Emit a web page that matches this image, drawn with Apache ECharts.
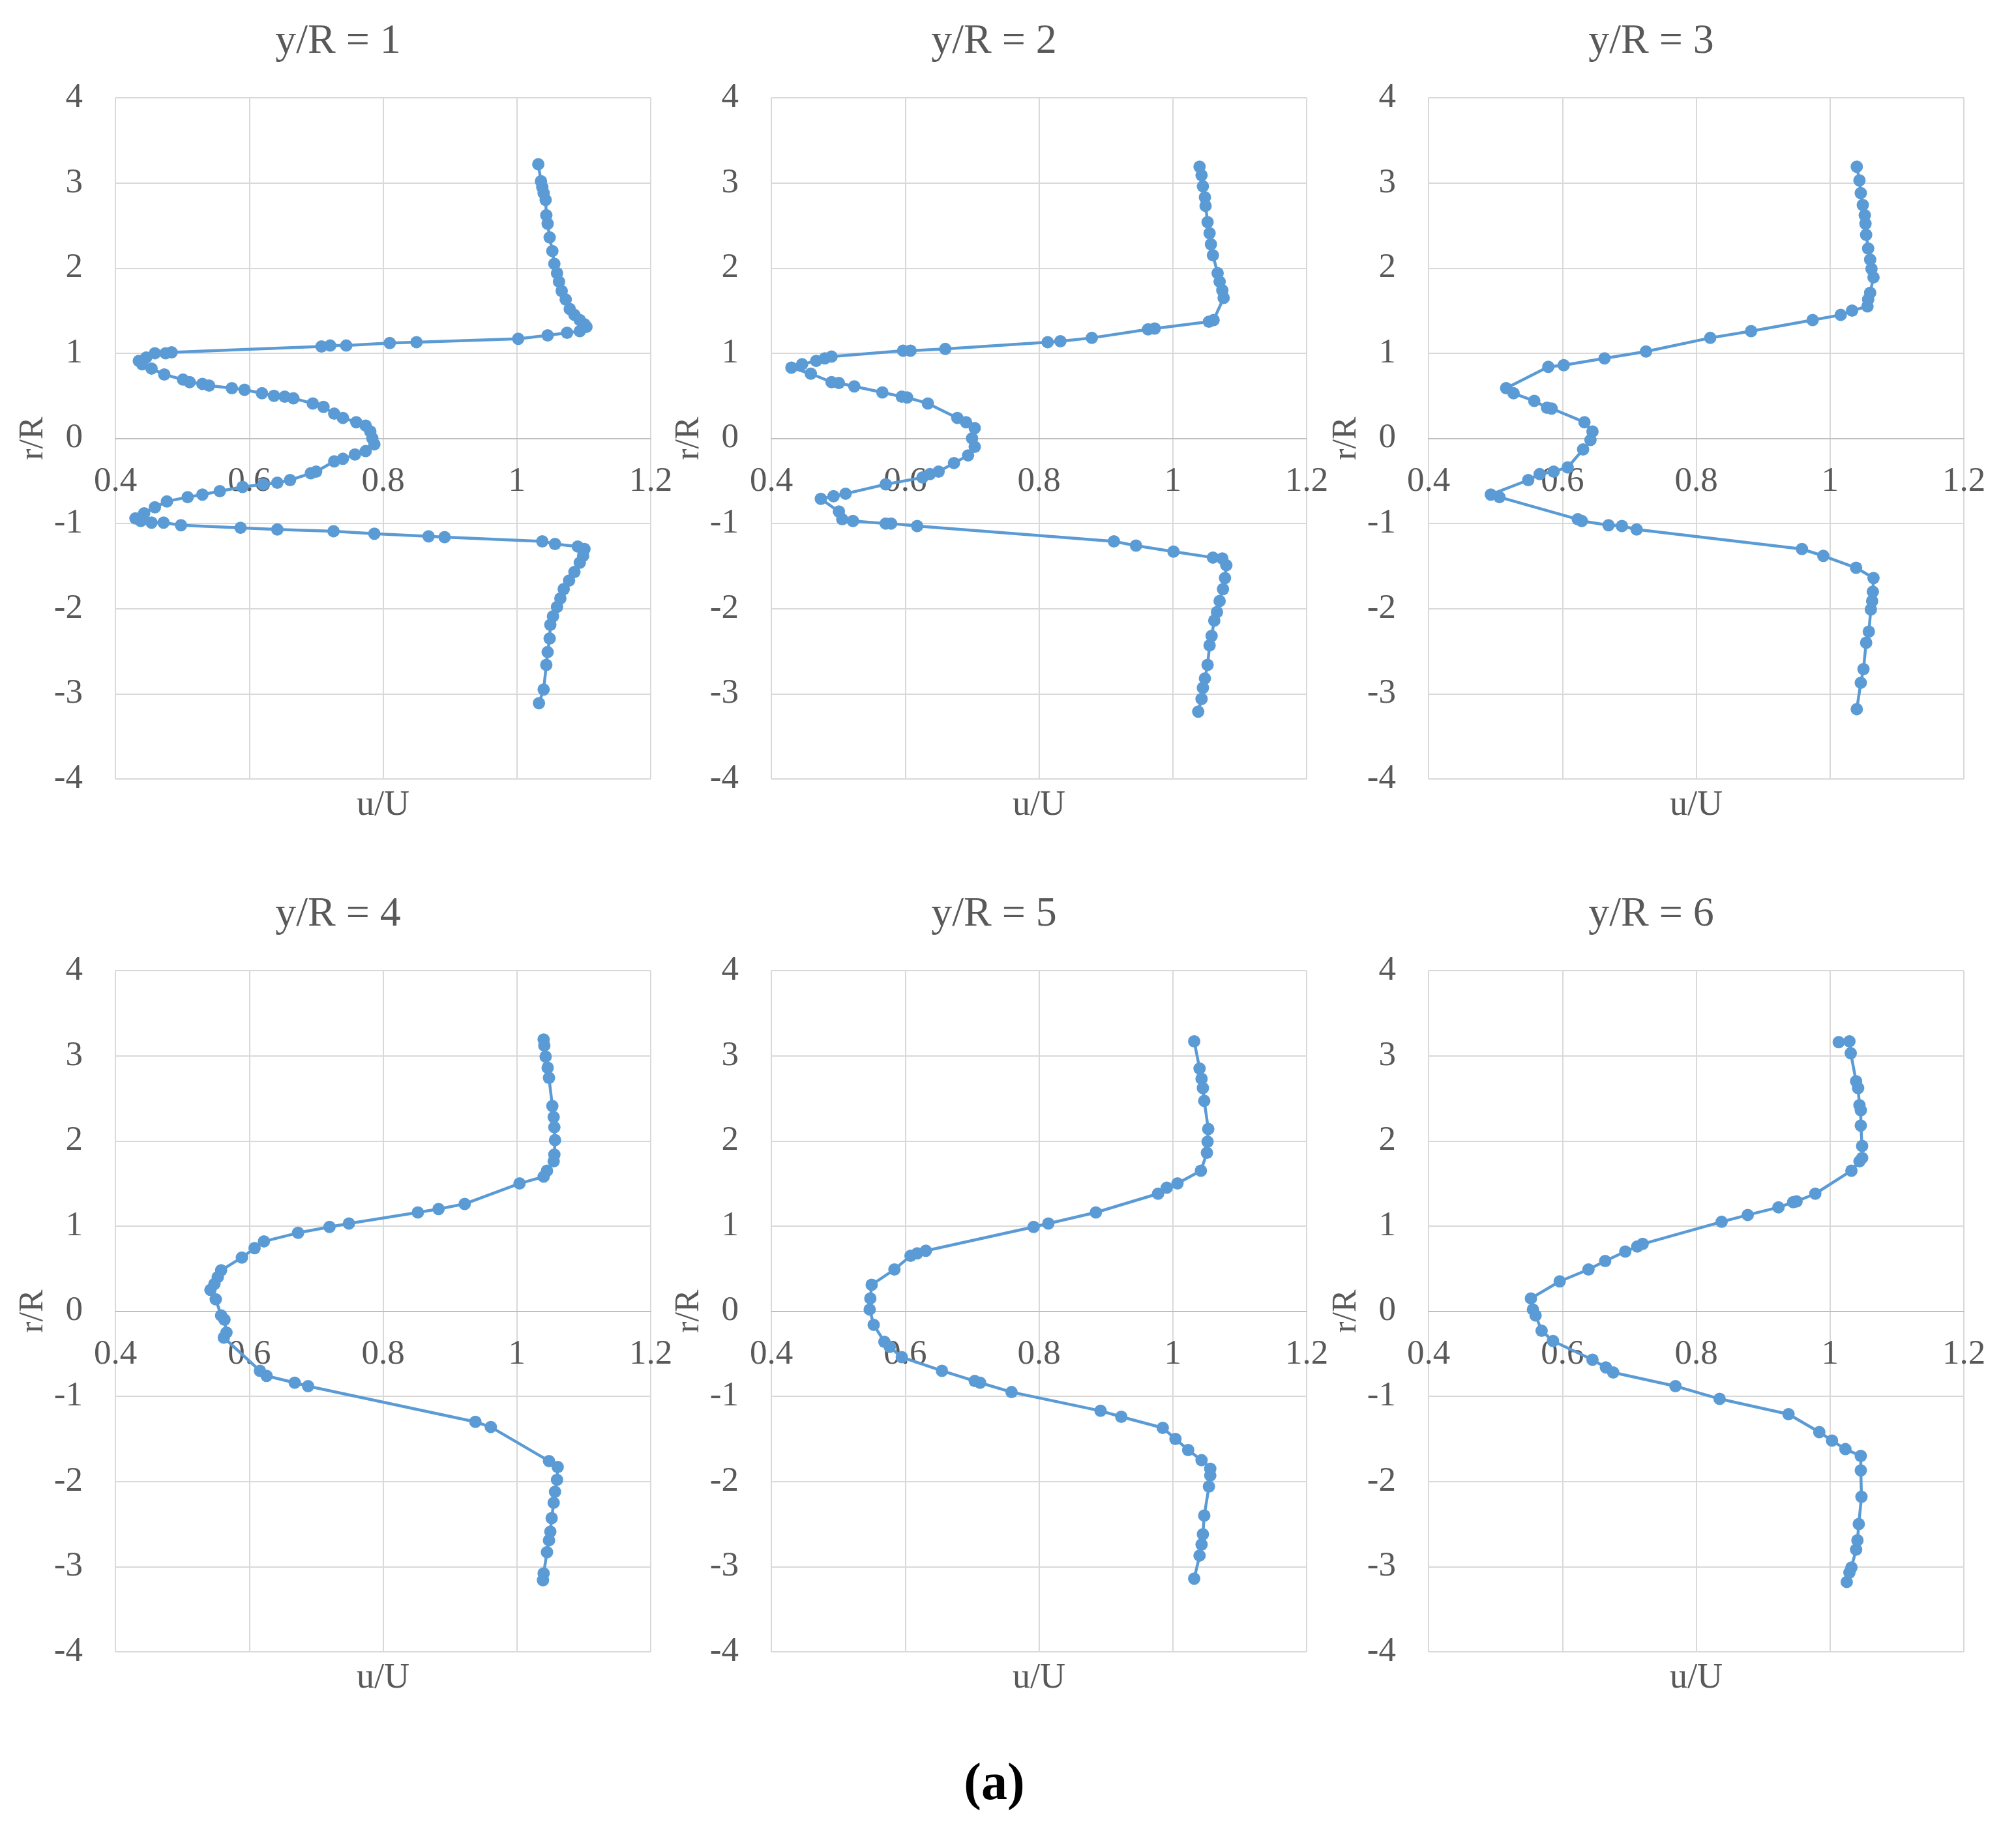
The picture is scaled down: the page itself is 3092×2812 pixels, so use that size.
<!DOCTYPE html>
<html>
<head>
<meta charset="utf-8">
<title>u/U profiles</title>
<script src="https://cdn.jsdelivr.net/npm/echarts@6/dist/echarts.min.js"></script>
<style>
  html, body { margin: 0; padding: 0; background: #fff; }
  #chart { width: 3092px; height: 2812px; }
</style>
</head>
<body>
<div id="chart"></div>
<script>
// 各截面的数据 (u/U, r/R)
const titles = ['y/R = 1', 'y/R = 2', 'y/R = 3', 'y/R = 4', 'y/R = 5', 'y/R = 6'];
const xTicks = [0.4, 0.6, 0.8, 1.0, 1.2];
const yTicks = [-4, -3, -2, -1, 0, 1, 2, 3, 4];

const u1 = [1.032,1.036,1.038,1.040,1.043,1.044,1.046,1.049,1.053,1.056,1.060,1.063,1.067,1.073,1.079,1.086,1.094,1.101,1.104,1.094,
  1.075,1.046,1.002,0.850,0.810,0.745,0.721,0.708,0.484,0.475,0.459,0.446,0.435,0.440,0.454,0.473,0.501,0.511,0.530,0.540,
  0.574,0.593,0.619,0.637,0.653,0.666,0.695,0.711,0.727,0.740,0.760,0.774,0.781,0.784,0.787,0.774,0.758,0.740,0.727,0.700,
  0.692,0.661,0.642,0.621,0.590,0.556,0.530,0.508,0.477,0.459,0.443,0.430,0.438,0.454,0.472,0.498,0.587,0.642,0.726,0.787,
  0.868,0.892,1.038,1.057,1.091,1.101,1.099,1.094,1.086,1.078,1.070,1.065,1.060,1.054,1.050,1.049,1.046,1.044,1.040,1.033];
const r1 = [3.22,3.02,2.95,2.88,2.80,2.62,2.52,2.36,2.20,2.05,1.94,1.84,1.73,1.63,1.52,1.45,1.39,1.34,1.31,1.26,
  1.24,1.21,1.17,1.13,1.12,1.09,1.09,1.08,1.01,1.00,1.00,0.95,0.91,0.87,0.82,0.75,0.69,0.66,0.64,0.62,
  0.59,0.57,0.53,0.50,0.49,0.47,0.41,0.37,0.29,0.24,0.19,0.15,0.08,0.00,-0.07,-0.15,-0.19,-0.24,-0.27,-0.39,
  -0.41,-0.49,-0.52,-0.54,-0.57,-0.62,-0.66,-0.69,-0.74,-0.81,-0.88,-0.94,-0.97,-0.99,-0.99,-1.02,-1.05,-1.07,-1.09,-1.12,
  -1.15,-1.16,-1.21,-1.24,-1.27,-1.30,-1.38,-1.46,-1.57,-1.67,-1.77,-1.88,-1.98,-2.09,-2.19,-2.35,-2.51,-2.66,-2.95,-3.11];

const u2 = [1.040,1.043,1.045,1.048,1.049,1.052,1.055,1.057,1.060,1.067,1.070,1.074,1.076,1.061,1.054,0.973,0.963,0.879,0.832,0.813,
  0.660,0.608,0.597,0.490,0.480,0.467,0.446,0.430,0.459,0.490,0.501,0.524,0.566,0.595,0.603,0.634,0.678,0.691,0.704,0.700,
  0.704,0.694,0.673,0.650,0.637,0.626,0.571,0.511,0.493,0.474,0.501,0.506,0.522,0.571,0.579,0.618,0.912,0.945,1.001,1.060,
  1.074,1.080,1.078,1.075,1.070,1.066,1.062,1.058,1.055,1.052,1.048,1.045,1.043,1.038];
const r2 = [3.19,3.09,2.96,2.83,2.73,2.54,2.41,2.28,2.15,1.94,1.84,1.74,1.65,1.39,1.37,1.29,1.28,1.18,1.14,1.13,
  1.05,1.03,1.03,0.96,0.94,0.91,0.87,0.83,0.76,0.66,0.65,0.61,0.54,0.49,0.48,0.41,0.24,0.19,0.12,0.00,
  -0.10,-0.20,-0.29,-0.39,-0.42,-0.46,-0.54,-0.65,-0.68,-0.71,-0.86,-0.95,-0.97,-1.00,-1.00,-1.03,-1.21,-1.26,-1.33,-1.40,
  -1.41,-1.49,-1.64,-1.77,-1.91,-2.04,-2.14,-2.32,-2.43,-2.66,-2.82,-2.93,-3.06,-3.21];

const u3 = [1.040,1.044,1.046,1.049,1.052,1.053,1.054,1.057,1.060,1.062,1.065,1.060,1.057,1.056,1.033,1.016,0.974,0.882,0.821,0.725,
  0.663,0.602,0.579,0.516,0.527,0.558,0.577,0.584,0.633,0.645,0.642,0.631,0.608,0.587,0.566,0.549,0.493,0.506,0.623,0.629,
  0.669,0.689,0.711,0.958,0.990,1.039,1.065,1.064,1.063,1.061,1.058,1.054,1.050,1.046,1.040];
const r3 = [3.19,3.03,2.88,2.74,2.62,2.52,2.39,2.23,2.10,1.99,1.89,1.71,1.63,1.55,1.50,1.45,1.39,1.26,1.18,1.02,
  0.94,0.86,0.84,0.59,0.53,0.44,0.36,0.35,0.19,0.08,-0.02,-0.13,-0.34,-0.39,-0.42,-0.49,-0.66,-0.69,-0.95,-0.97,
  -1.02,-1.03,-1.07,-1.30,-1.38,-1.52,-1.64,-1.80,-1.91,-2.01,-2.27,-2.40,-2.71,-2.87,-3.18];

const u4 = [1.040,1.041,1.043,1.046,1.048,1.053,1.055,1.056,1.057,1.056,1.055,1.045,1.040,1.004,0.922,0.883,0.852,0.749,0.720,0.673,
  0.622,0.608,0.589,0.558,0.553,0.548,0.542,0.550,0.558,0.563,0.566,0.562,0.616,0.626,0.668,0.688,0.938,0.961,1.048,1.061,
  1.060,1.057,1.055,1.052,1.050,1.048,1.045,1.040,1.039];
const r4 = [3.19,3.12,2.99,2.86,2.74,2.41,2.28,2.16,2.01,1.84,1.76,1.65,1.58,1.50,1.26,1.20,1.16,1.03,0.99,0.92,
  0.82,0.74,0.63,0.48,0.40,0.32,0.25,0.14,-0.05,-0.10,-0.25,-0.31,-0.70,-0.76,-0.84,-0.88,-1.30,-1.36,-1.76,-1.83,
  -1.98,-2.12,-2.25,-2.43,-2.59,-2.69,-2.83,-3.08,-3.16];

const u5 = [1.032,1.040,1.043,1.045,1.047,1.053,1.052,1.051,1.042,1.007,0.991,0.978,0.885,0.814,0.792,0.631,0.618,0.608,0.584,0.550,
  0.548,0.547,0.553,0.569,0.577,0.595,0.655,0.704,0.712,0.759,0.892,0.923,0.985,1.004,1.023,1.043,1.056,1.056,1.054,1.047,
  1.045,1.043,1.040,1.032];
const r5 = [3.17,2.85,2.73,2.62,2.47,2.14,1.99,1.86,1.65,1.50,1.45,1.38,1.16,1.03,0.99,0.71,0.68,0.65,0.49,0.31,
  0.15,0.02,-0.16,-0.36,-0.42,-0.54,-0.70,-0.82,-0.84,-0.95,-1.17,-1.24,-1.37,-1.50,-1.63,-1.75,-1.85,-1.93,-2.06,-2.40,
  -2.62,-2.74,-2.87,-3.14];

const u6 = [1.013,1.029,1.031,1.039,1.042,1.044,1.046,1.046,1.048,1.048,1.044,1.032,0.978,0.950,0.945,0.923,0.877,0.838,0.720,0.712,
  0.694,0.664,0.639,0.596,0.553,0.556,0.560,0.569,0.586,0.645,0.665,0.676,0.769,0.835,0.938,0.984,1.003,1.023,1.046,1.046,
  1.047,1.043,1.041,1.039,1.032,1.029,1.025];
const r6 = [3.16,3.17,3.03,2.70,2.62,2.42,2.36,2.18,1.94,1.80,1.76,1.65,1.38,1.29,1.28,1.22,1.13,1.05,0.79,0.76,
  0.70,0.59,0.49,0.35,0.15,0.02,-0.05,-0.23,-0.35,-0.57,-0.66,-0.72,-0.88,-1.03,-1.21,-1.42,-1.52,-1.62,-1.70,-1.87,
  -2.18,-2.50,-2.69,-2.80,-3.01,-3.07,-3.18];

const uList = [u1, u2, u3, u4, u5, u6];
const rList = [r1, r2, r3, r4, r5, r6];

// 版面
const colLeft = [177, 1183, 2191];
const rowTop = [150, 1489];
const plotW = 821;
const plotH = 1045;

const textColor = '#595959';
const gridColor = '#d9d9d9';
const lineColor = '#5b9bd5';
const fontFam = "'Liberation Serif', 'Times New Roman', serif";

const chartInstance = echarts.init(document.getElementById('chart'), null, { renderer: 'canvas' });

const grids = [], xAxes = [], yAxes = [], series = [], graphics = [];

for (let i = 0; i < 6; i++) {
  const left = colLeft[i % 3];
  const top = rowTop[Math.floor(i / 3)];
  grids.push({ left: left, top: top, width: plotW, height: plotH, containLabel: false });

  // 横轴放在 r/R = 0 处（Excel 的样式）
  xAxes.push({
    type: 'value',
    gridIndex: i,
    position: 'bottom',
    offset: -plotH / 2,
    min: xTicks[0],
    max: xTicks[xTicks.length - 1],
    interval: 0.2,
    axisLine: { show: true, onZero: false, lineStyle: { color: '#bfbfbf', width: 2 } },
    axisTick: { show: false },
    axisLabel: {
      color: textColor, fontSize: 53, fontFamily: fontFam, margin: 40,
      formatter: v => String(Math.round(v * 10) / 10)
    },
    splitLine: { show: true, lineStyle: { color: gridColor, width: 2 } }
  });

  yAxes.push({
    type: 'value',
    gridIndex: i,
    min: yTicks[0],
    max: yTicks[yTicks.length - 1],
    interval: 1,
    name: 'r/R',
    nameLocation: 'middle',
    nameRotate: 90,
    nameGap: 100,
    nameTextStyle: { color: textColor, fontSize: 52, fontFamily: fontFam },
    axisLine: { show: false, onZero: false },
    axisTick: { show: false },
    axisLabel: { color: textColor, fontSize: 53, fontFamily: fontFam, margin: 50 },
    splitLine: { show: true, lineStyle: { color: gridColor, width: 2 } }
  });

  series.push({
    type: 'line',
    xAxisIndex: i,
    yAxisIndex: i,
    data: uList[i].map((u, k) => [u, rList[i][k]]),
    symbol: 'circle',
    symbolSize: 19,
    showAllSymbol: true,
    lineStyle: { color: lineColor, width: 4.5 },
    itemStyle: { color: lineColor },
    animation: false
  });

  // 标题和横轴名
  graphics.push({
    type: 'text',
    x: left + plotW / 2 - 69,
    y: top - 86,
    style: { text: titles[i], font: '64px ' + fontFam, fill: textColor, textAlign: 'center', textVerticalAlign: 'middle' }
  });
  graphics.push({
    type: 'text',
    x: left + plotW / 2,
    y: top + plotH + 41,
    style: { text: 'u/U', font: '54px ' + fontFam, fill: textColor, textAlign: 'center', textVerticalAlign: 'middle' }
  });
}

graphics.push({
  type: 'text',
  x: 1525,
  y: 2739,
  style: { text: '(a)', font: 'bold 80px ' + fontFam, fill: '#000', textAlign: 'center', textVerticalAlign: 'middle' }
});

const option = {
  backgroundColor: '#fff',
  animation: false,
  grid: grids,
  xAxis: xAxes,
  yAxis: yAxes,
  series: series,
  graphic: graphics
};

chartInstance.setOption(option);
</script>
</body>
</html>
